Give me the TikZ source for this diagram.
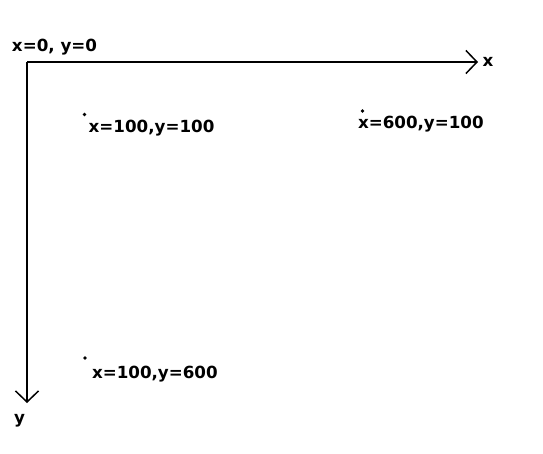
\documentclass[tikz,border=0pt]{standalone}
\usepackage{fontspec}
\setmainfont{DejaVu Sans}
\usetikzlibrary{arrows.meta}
\begin{document}
\begin{tikzpicture}[x=1pt,y=-1pt,
  lbl/.style={inner sep=0pt,font=\fontsize{16.7}{19}\selectfont\bfseries},
  axis/.style={line width=1.8pt,-{Straight Barb[length=11pt,width=23pt,line width=1.5pt]}},
  pt/.style={circle,fill=black,inner sep=0pt,minimum size=3.6pt}]
\useasboundingbox (0,0) rectangle (543,453);
\coordinate (o) at (27,62);
\coordinate (xe) at (478,62);
\coordinate (ye) at (27,403);
\draw[axis] (o) -- (xe);
\draw[axis] (o) -- (ye);
\node[lbl,anchor=base west] (lx) at (482.5,66) {x};
\node[lbl,anchor=center] (ly) at (19.5,421) {y};
\node[lbl,anchor=base west] (l0) at (11.8,51) {x=0, y=0};
\node[pt] (p1) at (84.5,114.5) {};
\node[lbl,anchor=base west] (t1) at (88.5,132) {x=100,y=100};
\node[pt] (p2) at (362.5,111) {};
\node[lbl,anchor=base west] (t2) at (357.8,128) {x=600,y=100};
\node[pt] (p3) at (85,358) {};
\node[lbl,anchor=base west] (t3) at (91.8,378.5) {x=100,y=600};
\end{tikzpicture}
\end{document}
